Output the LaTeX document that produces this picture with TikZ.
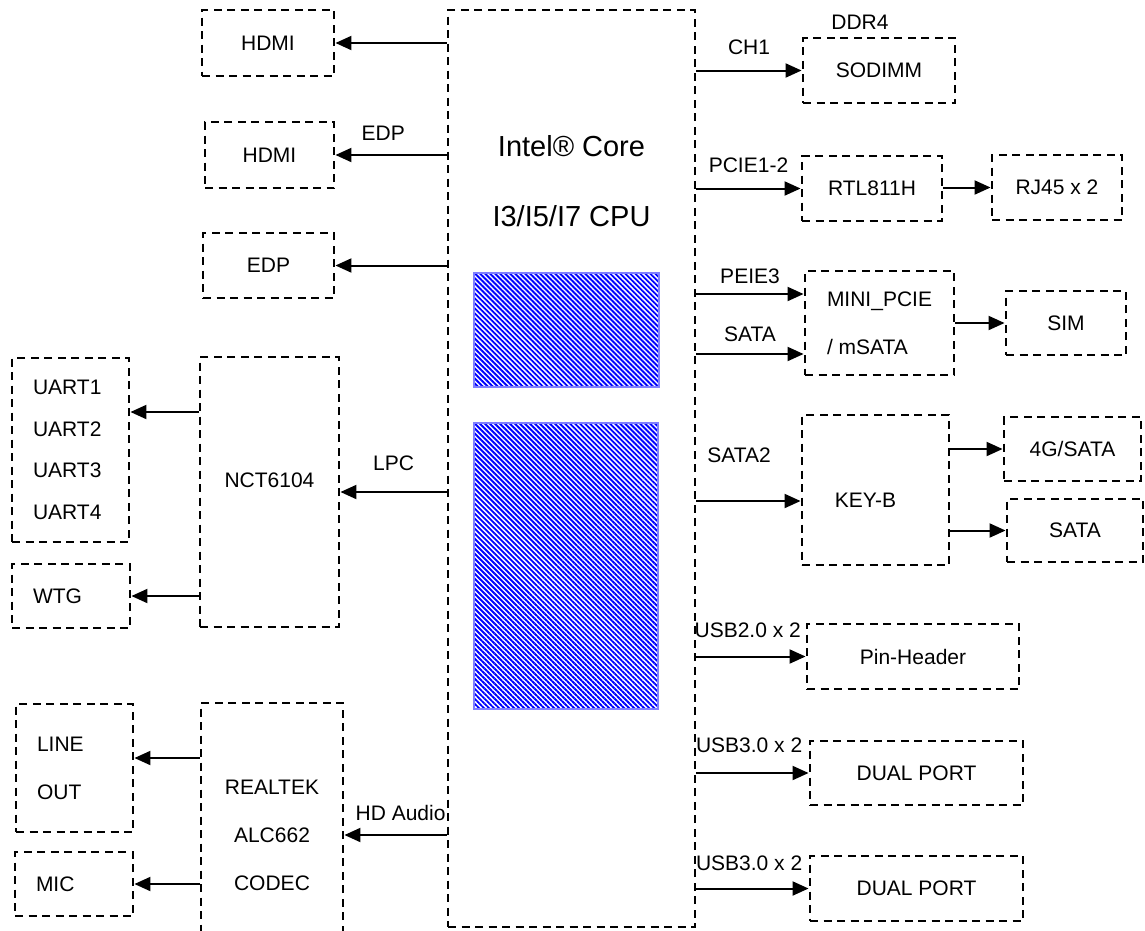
\documentclass[tikz,border=0pt]{standalone}
\usepackage{fontspec}
\setmainfont{Liberation Sans}
\usetikzlibrary{arrows.meta, patterns.meta, positioning, calc}
\definecolor{dieBlue}{HTML}{0000FF}
\definecolor{dieEdge}{HTML}{7F7FFF}

\begin{document}
\begin{tikzpicture}[x=1pt, y=-1pt,
  blk/.style={draw, line width=2.9pt, dash pattern=on 8pt off 5.5pt,
              font=\fontsize{21}{48}\selectfont, align=center, inner sep=0pt},
  lblk/.style={blk, inner xsep=21pt, align=left},
  link/.style={-{Triangle[length=16pt,width=14pt]}, line width=2pt},
  bus/.style={font=\fontsize{21}{25}\selectfont, inner sep=0pt},
  die/.style={draw=dieEdge, line width=1.2pt,
              pattern={Lines[angle=-45, distance=3.54pt, line width=1.9pt]},
              pattern color=dieBlue}]
  \useasboundingbox (0,0) rectangle (1145,930);

  % processor
  \node[blk, minimum width=247pt, minimum height=917pt] (cpu) at (571.5,468.5) {};
  \node[font=\fontsize{29}{70}\selectfont, align=center, inner sep=0pt,
        below=127pt of cpu.north] (cpuname) {Intel® Core\\I3/I5/I7 CPU};
  \draw[die] (474,273) rectangle (659,387);
  \draw[die] (474,423) rectangle (658,709);

  % left side
  \node[blk, minimum width=132pt, minimum height=66pt] (hdmiA) at (268,43) {HDMI};
  \node[blk, minimum width=129pt, minimum height=66pt] (hdmiB) at (269.5,155) {HDMI};
  \node[blk, minimum width=131pt, minimum height=65pt] (edp) at (268.5,265.5) {EDP};
  \node[lblk, text width=75pt, minimum height=184pt,
        font=\fontsize{21}{41.5}\selectfont] (uart) at (70.5,450)
        {UART1\\UART2\\UART3\\UART4};
  \node[lblk, text width=76pt, minimum height=64pt] (wtg) at (71,596) {WTG};
  \node[blk, minimum width=139pt, minimum height=270pt] (nct) at (269.5,492)
        {\raisebox{12pt}[\height][\depth]{NCT6104}};
  \node[lblk, text width=75pt, minimum height=128pt] (lineout) at (74.5,768) {LINE\\OUT};
  \node[lblk, text width=76pt, minimum height=64pt] (mic) at (74,884) {MIC};
  \node[blk, minimum width=142pt, minimum height=264pt] (realtek) at (272,835)
        {REALTEK\\ALC662\\CODEC};

  % right side
  \node[blk, minimum width=152pt, minimum height=65pt,
        label={[bus, xshift=-19pt, yshift=7pt]above:DDR4}] (sodimm) at (879,70.5) {SODIMM};
  \node[blk, minimum width=140pt, minimum height=65pt] (rtl) at (872,188.5) {RTL811H};
  \node[blk, minimum width=130pt, minimum height=65pt] (rj45) at (1057,187.5) {RJ45 x 2};
  \node[blk, align=left, minimum width=149pt, minimum height=104pt] (mpcie) at (879.5,323)
        {MINI\_PCIE\\/ mSATA};
  \node[blk, minimum width=120pt, minimum height=64pt] (sim) at (1066,323) {SIM};
  \node[blk, minimum width=147pt, minimum height=150pt] (keyb) at (875.5,490)
        {\raisebox{-10pt}[\height][\depth]{\hspace*{-20pt}KEY-B}};
  \node[blk, minimum width=137pt, minimum height=64pt] (fourg) at (1072.5,449) {4G/SATA};
  \node[blk, minimum width=136pt, minimum height=63pt] (sata) at (1075,530.5) {SATA};
  \node[blk, minimum width=212pt, minimum height=65pt] (pinhdr) at (913,656.5) {Pin-Header};
  \node[blk, minimum width=213pt, minimum height=64pt] (dualA) at (916.5,773) {DUAL PORT};
  \node[blk, minimum width=213pt, minimum height=65pt] (dualB) at (916.5,888.5) {DUAL PORT};

  % arrow ends off the box centres
  \coordinate (uartIn) at ([yshift=38pt]uart.east);
  \coordinate (lineIn) at ([yshift=10pt]lineout.east);
  \coordinate (pcieIn) at ([yshift=29pt]mpcie.west);
  \coordinate (msataIn) at ([yshift=-31pt]mpcie.west);
  \coordinate (keybIn) at ([yshift=-11pt]keyb.west);

  % buses
  \draw[link] (cpu.west |- hdmiA.east) -- (hdmiA.east);
  \draw[link] (cpu.west |- hdmiB.east) -- (hdmiB.east)
    node[bus, pos=0.57, above=13.5pt] {EDP};
  \draw[link] (cpu.west |- edp.east) -- (edp.east);
  \draw[link] (cpu.west |- nct.east) -- (nct.east)
    node[bus, midway, above=20.5pt] {LPC};
  \draw[link] (nct.west |- uartIn) -- (uartIn);
  \draw[link] (nct.west |- wtg.east) -- (wtg.east);
  \draw[link] (cpu.west |- realtek.east) -- (realtek.east)
    node[bus, pos=0.45, above=13.5pt] {HD Audio};
  \draw[link] (realtek.west |- lineIn) -- (lineIn);
  \draw[link] (realtek.west |- mic.east) -- (mic.east);

  \draw[link] (cpu.east |- sodimm.west) -- (sodimm.west)
    node[bus, midway, above=14.5pt] {CH1};
  \draw[link] (cpu.east |- rtl.west) -- (rtl.west)
    node[bus, midway, above=14.5pt] {PCIE1-2};
  \draw[link] (rtl.east |- rj45.west) -- (rj45.west);
  \draw[link] (cpu.east |- pcieIn) -- (pcieIn)
    node[bus, midway, above=9.5pt] {PEIE3};
  \draw[link] (cpu.east |- msataIn) -- (msataIn)
    node[bus, midway, above=11.5pt] {SATA};
  \draw[link] (mpcie.east |- sim.west) -- (sim.west);
  \draw[link] (cpu.east |- keybIn) -- (keybIn)
    node[bus, pos=0.41, above=37.5pt] {SATA2};
  \draw[link] (keyb.east |- fourg.west) -- (fourg.west);
  \draw[link] (keyb.east |- sata.west) -- (sata.west);
  \draw[link] (cpu.east |- pinhdr.west) -- (pinhdr.west)
    node[bus, pos=0.47, above=17.5pt] {USB2.0 x 2};
  \draw[link] (cpu.east |- dualA.west) -- (dualA.west)
    node[bus, pos=0.47, above=19.5pt] {USB3.0 x 2};
  \draw[link] (cpu.east |- dualB.west) -- (dualB.west)
    node[bus, pos=0.47, above=16.5pt] {USB3.0 x 2};
\end{tikzpicture}
\end{document}
